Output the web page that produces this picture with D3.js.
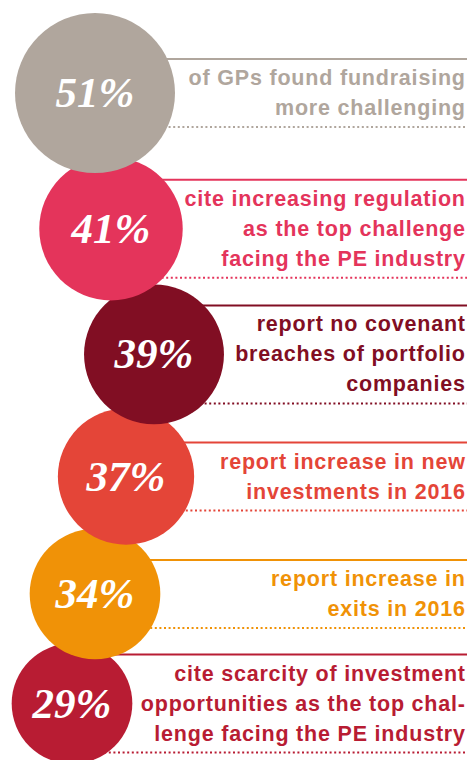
<!DOCTYPE html>
<html>
<head>
<meta charset="utf-8">
<script src="https://cdn.jsdelivr.net/npm/d3@7"></script>
<style>
  html, body { margin: 0; padding: 0; background: #ffffff; }
  svg { display: block; }
</style>
</head>
<body>
<div id="chart"></div>
<script>
// ---- data ----
const categories = ["fundraising", "regulation", "covenants", "investments", "exits", "scarcity"];
const values = [51, 41, 39, 37, 34, 29];
const descriptions = [
  ["of GPs found fundraising", "more challenging"],
  ["cite increasing regulation", "as the top challenge", "facing the PE industry"],
  ["report no covenant", "breaches of portfolio", "companies"],
  ["report increase in new", "investments in 2016"],
  ["report increase in", "exits in 2016"],
  ["cite scarcity of investment", "opportunities as the top chal-", "lenge facing the PE industry"]
];

// ---- style / layout ----
const palette = ["#b0a69d", "#e4345b", "#810e23", "#e44538", "#f09207", "#b81c33"];
const circleX = [95, 111, 154, 126, 95, 72];   // zig-zag indent of each bubble
const W = 470, H = 760;
const textRight = 465, lineRight = 467;
const lineStep = 30, overlap = 16, topMargin = 13;

const r = d3.scaleSqrt().domain([0, d3.max(values)]).range([0, 80]);

// stack bubbles vertically
const items = categories.map((c, i) => ({
  key: c, value: values[i], lines: descriptions[i], color: palette[i], cx: circleX[i], r: r(values[i])
}));
items.forEach((d, i) => {
  d.cy = i === 0 ? topMargin + d.r : items[i - 1].cy + items[i - 1].r + d.r - overlap;
  d.block = lineStep * d.lines.length + 8;
  d.top = d.cy - d.block / 2;
});

const svg = d3.select("#chart").append("svg").attr("width", W).attr("height", H);

const g = svg.selectAll("g.item").data(items).join("g").attr("class", "item");

// solid top rule
g.append("line")
  .attr("x1", d => d.cx).attr("x2", lineRight)
  .attr("y1", d => d.top).attr("y2", d => d.top)
  .attr("stroke", d => d.color).attr("stroke-width", 2);

// dotted bottom rule
g.append("line")
  .attr("x1", d => d.cx).attr("x2", lineRight)
  .attr("y1", d => d.top + d.block).attr("y2", d => d.top + d.block)
  .attr("stroke", d => d.color).attr("stroke-width", 2)
  .attr("stroke-dasharray", "2 2.6");

// description text
const ls = 0.8;
g.append("text")
  .attr("fill", d => d.color)
  .attr("font-family", "'Liberation Sans', Arial, sans-serif")
  .attr("font-weight", "bold")
  .attr("font-size", 21.5)
  .attr("letter-spacing", ls)
  .attr("text-anchor", "end")
  .selectAll("tspan").data(d => d.lines.map((t, k) => ({t, y: d.top + 26 + k * lineStep})))
  .join("tspan")
  .attr("x", textRight + ls)
  .attr("y", d => d.y)
  .text(d => d.t);

// bubbles, drawn so earlier ones sit on top
const bubbles = svg.append("g").selectAll("g").data(items.slice().reverse()).join("g");
bubbles.append("circle")
  .attr("cx", d => d.cx).attr("cy", d => d.cy).attr("r", d => d.r)
  .attr("fill", d => d.color);
bubbles.append("text")
  .attr("x", d => d.cx).attr("y", d => d.cy + 14)
  .attr("text-anchor", "middle")
  .attr("fill", "#ffffff")
  .attr("font-family", "'Liberation Serif', 'Times New Roman', serif")
  .attr("font-weight", "bold")
  .attr("font-style", "italic")
  .attr("font-size", 43)
  .text(d => d.value + "%");
</script>
</body>
</html>
